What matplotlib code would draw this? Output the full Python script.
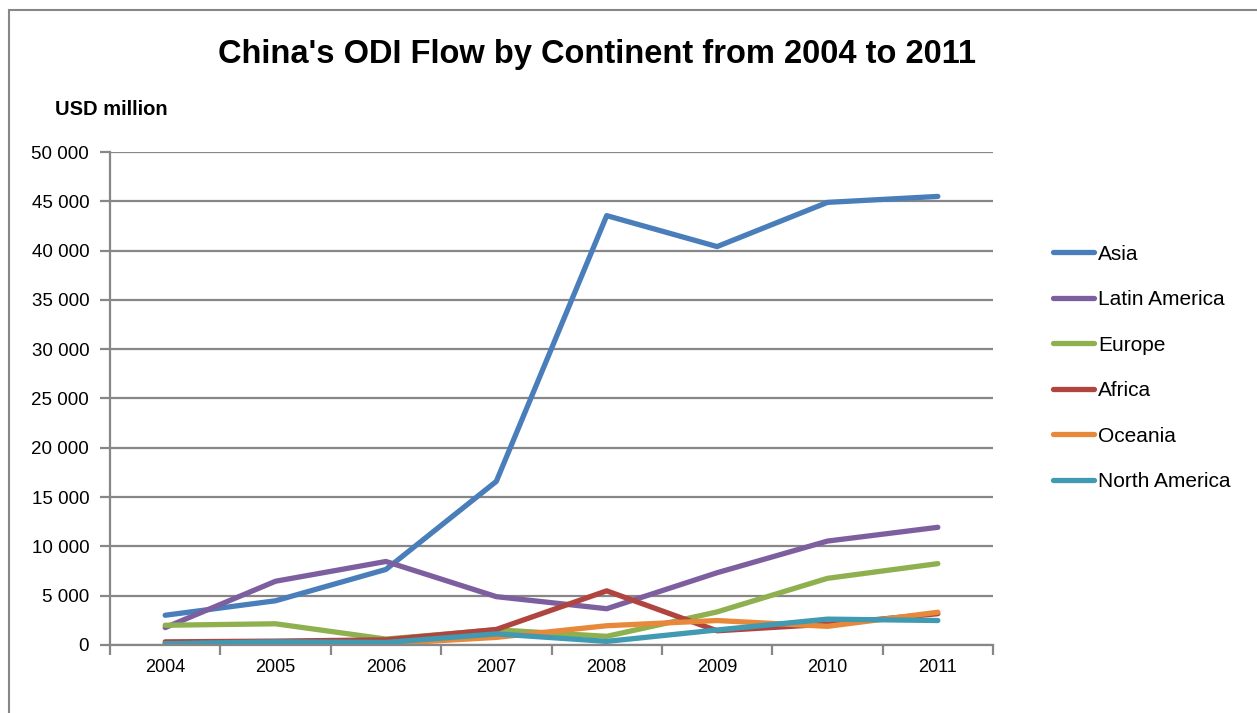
import matplotlib
matplotlib.use("Agg")
import matplotlib.pyplot as plt
from matplotlib.patches import Rectangle
from matplotlib.ticker import FuncFormatter, FixedLocator

plt.rcParams['font.family'] = ['Liberation Sans', 'DejaVu Sans']

# China's outward direct investment flows, USD million
years = ["2004", "2005", "2006", "2007", "2008", "2009", "2010", "2011"]
asia = [3014, 4484, 7663, 16593, 43548, 40408, 44890, 45495]
latin_america = [1763, 6466, 8469, 4902, 3677, 7328, 10538, 11936]
europe = [2000, 2150, 600, 1540, 876, 3353, 6760, 8251]
africa = [317, 392, 520, 1574, 5491, 1439, 2112, 3173]
oceania = [120, 203, 126, 770, 1952, 2480, 1890, 3319]
north_america = [126, 321, 258, 1126, 364, 1522, 2622, 2481]

series = [
    ("Asia", asia, "#4a7ebb"),
    ("Latin America", latin_america, "#7d5fa0"),
    ("Europe", europe, "#8fb04e"),
    ("Africa", africa, "#b0443f"),
    ("Oceania", oceania, "#e8883a"),
    ("North America", north_america, "#3f9ab2"),
]

GRID = "#878787"

fig = plt.figure(figsize=(12.57, 7.13), dpi=100)
ax = fig.add_axes([0.0875, 0.0954, 0.7025, 0.6914])

x = list(range(len(years)))
for name, vals, col in series:
    ax.plot(x, vals, color=col, lw=3.8, label=name,
            solid_capstyle="round", solid_joinstyle="round")

ax.set_xlim(-0.5, len(years) - 0.5)
ax.set_ylim(0, 50000)
ax.set_yticks(range(0, 50001, 5000))
ax.yaxis.set_major_formatter(FuncFormatter(lambda v, p: f"{int(v):,}".replace(",", " ")))
ax.grid(axis="y", color=GRID, lw=1.6)
ax.set_axisbelow(True)

ax.set_xticks(x)
ax.set_xticklabels(years)
ax.xaxis.set_minor_locator(FixedLocator([i - 0.5 for i in range(len(years) + 1)]))
ax.tick_params(axis="x", which="major", length=0, pad=10, labelsize=13)
ax.tick_params(axis="x", which="minor", length=7, width=1.6, color=GRID)
ax.tick_params(axis="y", length=7, width=1.6, color=GRID, labelsize=13.5, pad=8)

for side in ("top", "right"):
    ax.spines[side].set_visible(False)
for side in ("left", "bottom"):
    ax.spines[side].set_color(GRID)
    ax.spines[side].set_linewidth(1.6)

fig.text(0.475, 0.924, "China's ODI Flow by Continent from 2004 to 2011",
         ha="center", va="center", fontsize=23.5, fontweight="bold")
fig.text(0.044, 0.846, "USD million", ha="left", va="center",
         fontsize=14.5, fontweight="bold")

fig.legend(loc="center left", bbox_to_anchor=(0.823, 0.484), frameon=False,
           fontsize=15, handlelength=1.95, handletextpad=0.2, labelspacing=1.27)

# outer chart frame
fig.patches.append(Rectangle((9 / 1257, -0.2), 1.5, 1.2 - 10 / 713, transform=fig.transFigure,
                             fill=False, edgecolor=GRID, lw=1.5))

fig.savefig("out.png", dpi=100)
